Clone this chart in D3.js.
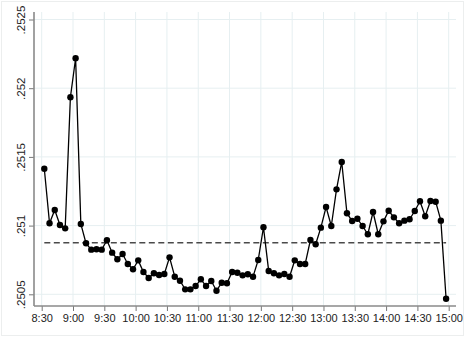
<!DOCTYPE html>
<html>
<head>
<meta charset="utf-8">
<script src="https://cdn.jsdelivr.net/npm/d3@7"></script>
<style>
  html, body { margin: 0; padding: 0; background: #fff; }
  svg { display: block; font-family: "Liberation Sans", Arial, sans-serif; }
</style>
</head>
<body>
<svg id="chart" width="468" height="341"></svg>
<script>
// 5-minute bins, plotted at the middle of each bin (8:30 - 15:00)
const binStart = "8:30";
const binMinutes = 5;

const values = [
  0.251414, 0.251017, 0.251114, 0.251004, 0.250980, 0.251934, 0.252218, 0.251012,
  0.250871, 0.250825, 0.250828, 0.250825, 0.250893, 0.250803, 0.250755, 0.250793,
  0.250721, 0.250682, 0.250747, 0.250662, 0.250619, 0.250653, 0.250640, 0.250648,
  0.250769, 0.250628, 0.250599, 0.250536, 0.250536, 0.250560, 0.250609, 0.250560,
  0.250597, 0.250526, 0.250584, 0.250580, 0.250662, 0.250657, 0.250638, 0.250646,
  0.250628, 0.250750, 0.250988, 0.250670, 0.250653, 0.250638, 0.250648, 0.250628,
  0.250747, 0.250721, 0.250721, 0.250895, 0.250864, 0.250985, 0.251135, 0.250997,
  0.251264, 0.251463, 0.251090, 0.251033, 0.251050, 0.250997, 0.250937, 0.251099,
  0.250937, 0.251031, 0.251108, 0.251060, 0.251017, 0.251036, 0.251046, 0.251106,
  0.251177, 0.251068, 0.251179, 0.251174, 0.251036, 0.250468
];

const refLine = 0.250876;

const xTickLabels = ["8:30", "9:00", "9:30", "10:00", "10:30", "11:00", "11:30",
  "12:00", "12:30", "13:00", "13:30", "14:00", "14:30", "15:00"];
const yTicks = [0.2505, 0.251, 0.2515, 0.252, 0.2525];
const yTickLabels = [".2505", ".251", ".2515", ".252", ".2525"];

const toMin = s => { const [h, m] = s.split(":"); return +h * 60 + +m; };

const width = 468, height = 341;
const svg = d3.select("#chart");

// outer frame
svg.append("rect")
  .attr("x", 1.5).attr("y", 1.5)
  .attr("width", 462).attr("height", 334)
  .attr("fill", "#fff")
  .attr("stroke", "#eceeee");

const x = d3.scaleLinear()
  .domain([toMin("8:30"), toMin("15:00")])
  .range([41.7, 448.7]);

const y = d3.scaleLinear()
  .domain([0.2505, 0.2525])
  .range([294.3, 19.5]);

const plotLeft = 34, plotRight = 456, plotTop = 12, plotBottom = 306;

const data = values.map((v, i) => ({
  t: toMin(binStart) + binMinutes * i + binMinutes / 2,
  v: v
}));

// grid lines
const grid = svg.append("g").attr("stroke", "#e6eff1").attr("stroke-width", 1);
grid.selectAll(".hg")
  .data(yTicks)
  .join("line")
  .attr("x1", plotLeft).attr("x2", plotRight)
  .attr("y1", d => y(d)).attr("y2", d => y(d));
grid.selectAll(".vg")
  .data(xTickLabels)
  .join("line")
  .attr("x1", d => x(toMin(d))).attr("x2", d => x(toMin(d)))
  .attr("y1", plotTop).attr("y2", plotBottom);

// y axis
const yAxis = d3.axisLeft(y)
  .tickValues(yTicks)
  .tickSize(5)
  .tickFormat((d, i) => yTickLabels[i]);

const gy = svg.append("g")
  .attr("transform", `translate(${plotLeft},0)`)
  .call(yAxis);
gy.select(".domain").remove();
gy.selectAll(".tick line").attr("stroke", "#777");
gy.selectAll(".tick text")
  .attr("font-size", 11.5)
  .attr("fill", "#222")
  .attr("text-anchor", "middle")
  .attr("dy", 0)
  .attr("x", 0)
  .attr("transform", "translate(-9,0) rotate(-90)");
svg.append("line")
  .attr("x1", plotLeft).attr("x2", plotLeft)
  .attr("y1", plotTop).attr("y2", plotBottom)
  .attr("stroke", "#8a8a8a").attr("stroke-width", 1.6);

// x axis
const xAxis = d3.axisBottom(x)
  .tickValues(xTickLabels.map(toMin))
  .tickSize(5)
  .tickFormat((d, i) => xTickLabels[i]);

const gx = svg.append("g")
  .attr("transform", `translate(0,${plotBottom})`)
  .call(xAxis);
gx.select(".domain").remove();
gx.selectAll(".tick line").attr("stroke", "#777");
gx.selectAll(".tick text")
  .attr("font-size", 11)
  .attr("fill", "#222")
  .attr("y", 8)
  .attr("dy", "0.71em");
svg.append("line")
  .attr("x1", plotLeft).attr("x2", plotRight)
  .attr("y1", plotBottom).attr("y2", plotBottom)
  .attr("stroke", "#8a8a8a").attr("stroke-width", 1.6);

// dashed reference line
svg.append("line")
  .attr("x1", x(data[0].t)).attr("x2", x(data[data.length - 1].t))
  .attr("y1", y(refLine)).attr("y2", y(refLine))
  .attr("stroke", "#4a4a4a")
  .attr("stroke-width", 1.5)
  .attr("stroke-dasharray", "6,3.5");

// series
const line = d3.line().x(d => x(d.t)).y(d => y(d.v));
svg.append("path")
  .datum(data)
  .attr("d", line)
  .attr("fill", "none")
  .attr("stroke", "#000")
  .attr("stroke-width", 1.3);

svg.append("g")
  .selectAll("circle")
  .data(data)
  .join("circle")
  .attr("cx", d => x(d.t))
  .attr("cy", d => y(d.v))
  .attr("r", 3.2)
  .attr("fill", "#000");
</script>
</body>
</html>
